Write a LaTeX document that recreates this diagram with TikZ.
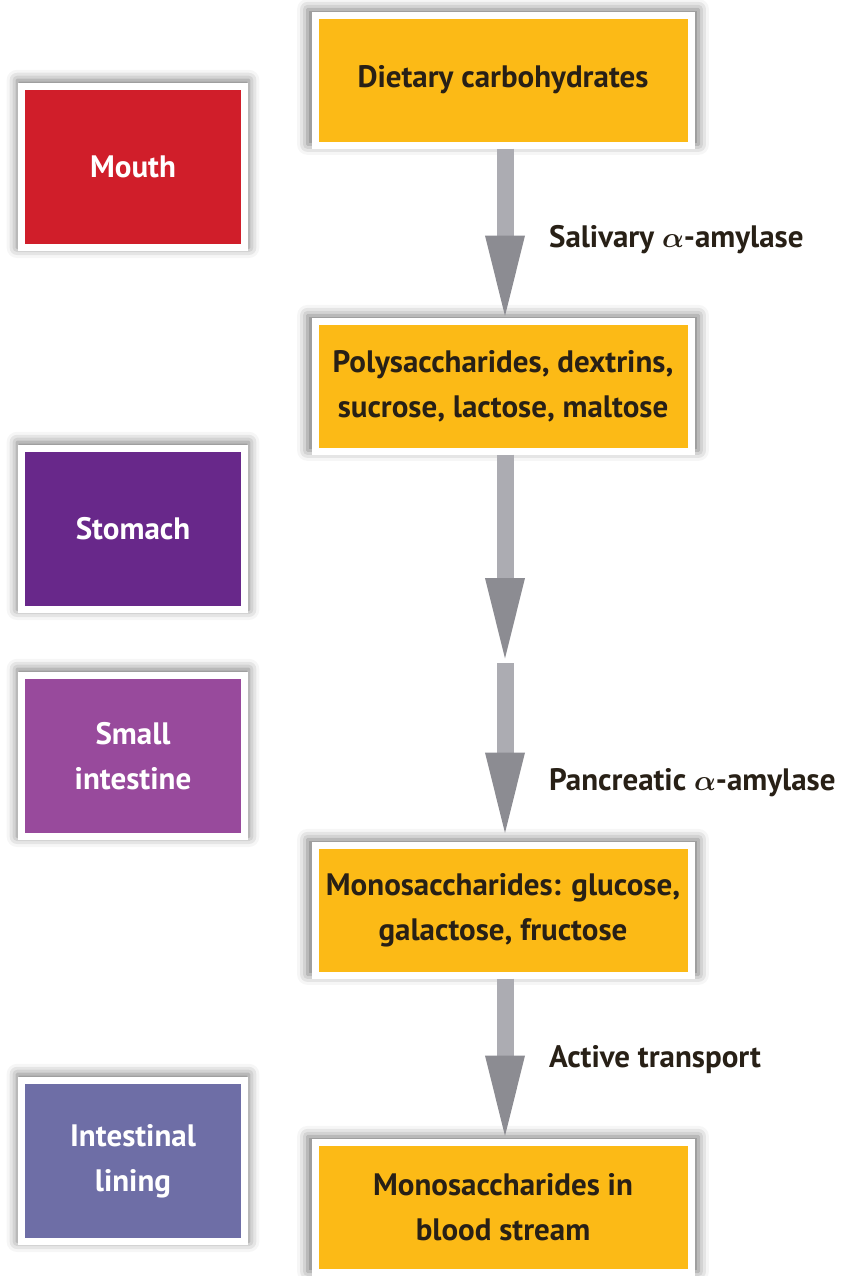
\documentclass[tikz,border=0pt]{standalone}
\usepackage{fontspec}
\usepackage{bm}
\setmainfont{PT Sans}
\usetikzlibrary{arrows.meta,shadows.blur}
\definecolor{boxyellow}{RGB}{252,186,22}
\definecolor{mouthred}{RGB}{208,30,42}
\definecolor{stomachpurple}{RGB}{104,40,138}
\definecolor{intestinepink}{RGB}{152,74,156}
\definecolor{liningblue}{RGB}{110,110,166}
\definecolor{arrowgray}{RGB}{172,172,178}
\definecolor{headgray}{RGB}{140,140,146}
\definecolor{inkdark}{RGB}{40,32,22}
\tikzset{
    framebox/.style={draw=white, line width=3.5pt, align=center,
        font=\fontsize{15.5}{22.5}\selectfont\bfseries,
        blur shadow={shadow xshift=0pt, shadow yshift=1.5pt, shadow scale=1.04,
            shadow blur radius=5pt, shadow opacity=55}},
    foodbox/.style={framebox, fill=boxyellow, text=inkdark,
        minimum width=188pt, minimum height=65pt},
    organbox/.style={framebox, text=white,
        minimum width=111.5pt, minimum height=80.5pt},
    enzyme/.style={anchor=west, text=inkdark,
        font=\fontsize{15.5}{22.5}\selectfont\bfseries},
    flowarrow/.style={draw=arrowgray, line width=8.5pt,
        -{Triangle[width=17pt, length=46pt, color=headgray]}}
}
\begin{document}
\begin{tikzpicture}[x=0.5pt, y=-0.5pt]
    \useasboundingbox (0,0) rectangle (846,1276);
    % organs (left column)
    \node[organbox, fill=mouthred] (mouth) at (133,167) {Mouth};
    \node[organbox, fill=stomachpurple] (stomach) at (133,529) {Stomach};
    \node[organbox, fill=intestinepink] (small) at (133,756) {Small\\intestine};
    \node[organbox, fill=liningblue] (lining) at (133,1161) {Intestinal\\lining};

    % carbohydrate stages (right column)
    \node[foodbox] (diet) at (503,80) {Dietary carbohydrates};
    \node[foodbox] (poly) at (503,386) {Polysaccharides, dextrins,\\sucrose, lactose, maltose};
    \node[foodbox] (mono) at (503,910) {Monosaccharides: glucose,\\galactose, fructose};
    \node[foodbox] (blood) at (503,1207) {Monosaccharides in\\blood stream};

    % arrows
    \coordinate (mid) at (505,670);
    \draw[flowarrow] ([xshift=1pt]diet.south) -- ([xshift=1pt,yshift=-5pt]poly.north);
    \draw[flowarrow] ([xshift=1pt]poly.south) -- (mid);
    \draw[flowarrow] ([yshift=3.5pt]mid) -- ([xshift=1pt,yshift=-1.5pt]mono.north);
    \draw[flowarrow] ([xshift=1pt]mono.south) -- ([xshift=1pt,yshift=-4.5pt]blood.north);

    % enzyme labels
    \node[enzyme] (saliva) at (542,240) {Salivary $\bm{\alpha}$-amylase};
    \node[enzyme] (pancreas) at (542,783) {Pancreatic $\bm{\alpha}$-amylase};
    \node[enzyme] (transport) at (542,1060) {Active transport};
\end{tikzpicture}
\end{document}
